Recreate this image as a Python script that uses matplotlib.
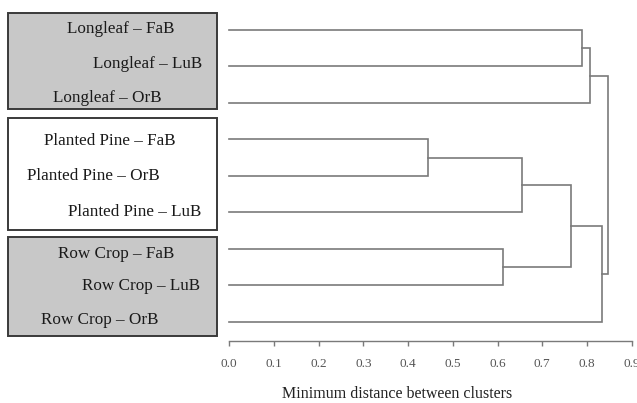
import matplotlib
matplotlib.use('Agg')
import matplotlib.pyplot as plt
from matplotlib.patches import Rectangle

# ── Data: leaves (top to bottom) and agglomeration steps ─────────────────
leaves = ['Longleaf – FaB', 'Longleaf – LuB', 'Longleaf – OrB',
          'Planted Pine – FaB', 'Planted Pine – OrB', 'Planted Pine – LuB',
          'Row Crop – FaB', 'Row Crop – LuB', 'Row Crop – OrB']
# each merge: (node a, node b, distance); new node id = len(leaves) + step
merge_a = [3, 6, 9, 11, 0, 13, 12, 14]
merge_b = [4, 7, 5, 10, 1, 2, 8, 15]
merge_d = [0.445, 0.613, 0.654, 0.765, 0.790, 0.807, 0.833, 0.848]
xticks = [0.0, 0.1, 0.2, 0.3, 0.4, 0.5, 0.6, 0.7, 0.8, 0.9]

# ── Layout (pixels) ─────────────────────────────────────────────────────
W, H = 637, 403
boxes = [(8, 12.7, 216.7, 109.5, '#c8c8c8'),
         (8, 118.3, 216.7, 230.0, 'white'),
         (8, 236.5, 216.7, 335.5, '#c8c8c8')]
label_x = [67, 93, 53, 44, 27, 68, 58, 82, 41]
label_base = [33.3, 68.3, 101.7, 145.0, 180.5, 216.5, 258.3, 290.0, 324.3]

serif = ['Liberation Serif', 'DejaVu Serif']
line_col = '#7a7a7a'

fig = plt.figure(figsize=(W / 100, H / 100), dpi=100)

# dendrogram axes: leaf i sits at y = i
ax_l, ax_r = 229.3, 631.6
ax_top, ax_bot = 11.8, 340.7
ax = fig.add_axes([ax_l / W, 1 - ax_bot / H, (ax_r - ax_l) / W, (ax_bot - ax_top) / H])
leaf_step = 36.46
ax.set_xlim(0, 0.9)
ax.set_ylim((ax_bot - 30) / leaf_step, -(30 - ax_top) / leaf_step)

pos = {i: (0.0, float(i)) for i in range(len(leaves))}
for k, (a, b, d) in enumerate(zip(merge_a, merge_b, merge_d)):
    xa, ya = pos[a]
    xb, yb = pos[b]
    ax.plot([xa, d, d, xb], [ya, ya, yb, yb], color=line_col, lw=1.2,
            solid_joinstyle='miter', clip_on=False)
    pos[len(leaves) + k] = (d, (ya + yb) / 2)

for s in ['top', 'right', 'left']:
    ax.spines[s].set_visible(False)
ax.spines['bottom'].set_color(line_col)
ax.spines['bottom'].set_linewidth(1.0)
ax.set_yticks([])
ax.set_xticks(xticks)
ax.set_xticklabels([f'{t:.1f}' for t in xticks], family=serif, fontsize=9.5, color='#555555')
ax.tick_params(axis='x', length=3.5, width=1.0, color=line_col, pad=9)
ax.set_xlabel('Minimum distance between clusters', family=serif, fontsize=11.5,
              color='#222222')
ax.xaxis.set_label_coords(0.417, -0.139)
ax.patch.set_alpha(0)

# overlay in pixel coordinates for the group boxes and leaf labels
ov = fig.add_axes([0, 0, 1, 1], zorder=-1)
ov.set_xlim(0, W)
ov.set_ylim(H, 0)
ov.axis('off')
for x0, y0, x1, y1, fc in boxes:
    ov.add_patch(Rectangle((x0, y0), x1 - x0, y1 - y0, facecolor=fc,
                           edgecolor='#3a3a3a', lw=1.4))
for name, lx, ly in zip(leaves, label_x, label_base):
    ov.text(lx, ly, name, family=serif, fontsize=12.3, color='#1a1a1a',
            ha='left', va='baseline')

plt.savefig('out.png', dpi=100)
